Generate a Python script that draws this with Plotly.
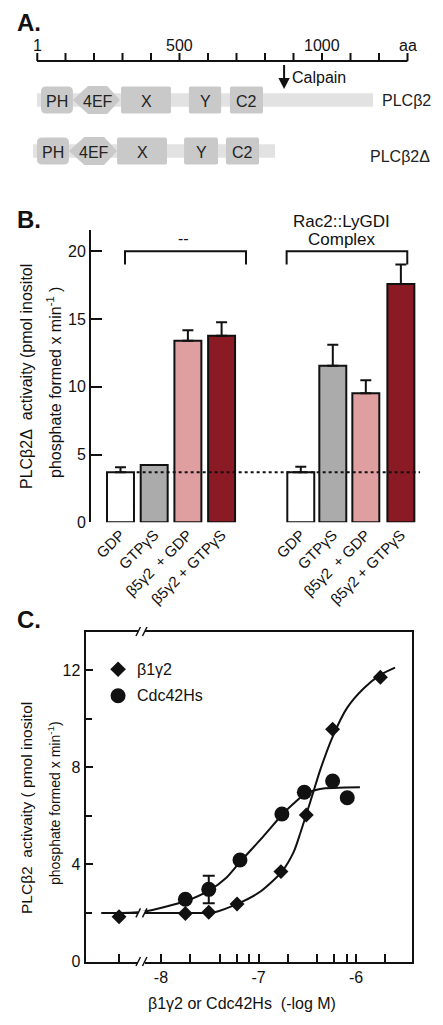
import plotly.graph_objects as go

W, H = 443, 1025
FONT = "'Liberation Sans', Arial, Helvetica, sans-serif"
INK = "#111111"

# ---------------- Panel A data (amino-acid positions) ----------------
scale_ticks = [1, 100, 200, 300, 400, 500, 600, 700, 800, 900, 1000, 1100, 1200, 1300]
scale_tick_labels = ["1", "", "", "", "", "500", "", "", "", "", "1000", "", "", "aa"]
domain_names = ["PH", "4EF", "X", "Y", "C2"]
plcb2_dom_start = [14, 126, 295, 533, 677]
plcb2_dom_end = [126, 291, 470, 646, 793]
plcb2_extent = [0, 1179]
plcb2d_dom_start = [0, 112, 281, 516, 663]
plcb2d_dom_end = [112, 281, 456, 635, 779]
plcb2d_extent = [-14, 835]
protein_names = ["PLCβ2", "PLCβ2Δ"]
calpain_site = 867

# ---------------- Panel B data ----------------
b_labels = ["GDP", "GTPγS", "β5γ2\u00a0\u00a0+ GDP", "β5γ2 + GTPγS"]
b_none_vals = [3.69, 4.23, 13.39, 13.76]
b_none_err = [0.37, 0.0, 0.77, 0.99]
b_rac_vals = [3.69, 11.55, 9.51, 17.57]
b_rac_err = [0.41, 1.55, 0.96, 1.45]
b_colors = ["#ffffff", "#ababab", "#df9ea0", "#8a1a23"]
b_group_titles = ["--", "Rac2::LyGDI", "Complex"]

# ---------------- Panel C data (log M) ----------------
c_b1g2_x = [-8.43, -7.75, -7.51, -7.22, -6.77, -6.51, -6.24, -5.75]
c_b1g2_y = [1.84, 1.98, 2.03, 2.37, 3.70, 6.03, 9.56, 11.70]
c_cdc_x = [-7.75, -7.51, -7.19, -6.76, -6.53, -6.24, -6.09]
c_cdc_y = [2.56, 2.97, 4.18, 6.07, 6.97, 7.43, 6.74]
c_cdc_err_up = [0, 0.56, 0, 0, 0, 0, 0]
c_cdc_err_down = [0, 0.57, 0, 0, 0, 0, 0]
c_b1g2_fit_x = [-8.61, -7.75, -7.46, -7.20, -6.98, -6.76, -6.64, -6.57, -6.51, -6.44, -6.37, -6.24, -6.09, -5.92, -5.75, -5.60]
c_b1g2_fit_y = [2.0, 2.0, 2.02, 2.4, 2.88, 3.7, 4.5, 5.3, 6.05, 6.95, 7.85, 9.25, 10.45, 11.25, 11.8, 12.1]
c_cdc_fit_x = [-8.61, -8.18, -7.74, -7.50, -7.33, -7.20, -6.95, -6.76, -6.64, -6.52, -6.37, -5.96]
c_cdc_fit_y = [2.0, 2.05, 2.5, 2.94, 3.45, 4.05, 5.15, 6.03, 6.5, 6.9, 7.1, 7.17]
c_xtick_vals = [-8.43, -8, -7.699, -7.398, -7.222, -7.097, -7, -6.699, -6.398, -6.222, -6.097, -6, -5.699]
c_xtick_text = ["", "-8", "", "", "", "", "-7", "", "", "", "", "-6", ""]
c_legend = ["β1γ2", "Cdc42Hs"]


def px_x(px):
    return px / W


def px_y(py):
    return 1 - py / H


fig = go.Figure()
shapes = []
annotations = []

# ================= Panel A =================
A_PX_PER_AA = 0.285
A_X0 = 37
a_range = [-A_X0 / A_PX_PER_AA, (W - A_X0) / A_PX_PER_AA]
DOM_FILL = "#c9c9c9"
BAR_FILL = "#e2e2e2"


def rounded_rect(x0, x1, y0, y1, rx, ry):
    return (f"M{x0+rx},{y0} L{x1-rx},{y0} Q{x1},{y0} {x1},{y0+ry} "
            f"L{x1},{y1-ry} Q{x1},{y1} {x1-rx},{y1} L{x0+rx},{y1} "
            f"Q{x0},{y1} {x0},{y1-ry} L{x0},{y0+ry} Q{x0},{y0} {x0+rx},{y0} Z")


def hexagon(x0, x1, y0, y1, yc):
    w = x1 - x0
    return (f"M{x0},{yc} L{x0+0.32*w},{y0} L{x1-0.27*w},{y0} L{x1},{yc} "
            f"L{x1-0.27*w},{y1} L{x0+0.32*w},{y1} Z")


# scale bar
SCALE_Y = 61
shapes.append(dict(type="line", xref="x3", yref="y3", x0=scale_ticks[0] - 1, x1=scale_ticks[-1],
                   y0=SCALE_Y, y1=SCALE_Y, line=dict(color=INK, width=2)))
for t, lab in zip(scale_ticks, scale_tick_labels):
    shapes.append(dict(type="line", xref="x3", yref="y3", x0=t, x1=t, y0=SCALE_Y, y1=SCALE_Y - 8,
                       line=dict(color=INK, width=2)))
    if lab:
        annotations.append(dict(xref="x3", yref="y3", x=t, y=45, text=lab, showarrow=False,
                                font=dict(size=16, color=INK), xanchor="center", yanchor="middle"))

rows = [
    (100, plcb2_extent, plcb2_dom_start, plcb2_dom_end),
    (151, plcb2d_extent, plcb2d_dom_start, plcb2d_dom_end),
]
for yc, ext, starts, ends in rows:
    shapes.append(dict(type="rect", xref="x3", yref="y3", x0=ext[0], x1=ext[1], y0=yc - 6.7, y1=yc + 6.7,
                       fillcolor=BAR_FILL, line=dict(width=0), layer="below"))
    for name, s, e in zip(domain_names, starts, ends):
        if name == "4EF":
            path = hexagon(s, e, yc - 14, yc + 14, yc)
        elif name == "PH":
            path = rounded_rect(s, e, yc - 13.5, yc + 13.5, 18, 5)
        else:
            path = rounded_rect(s, e, yc - 13.5, yc + 13.5, 6, 2)
        shapes.append(dict(type="path", xref="x3", yref="y3", path=path, fillcolor=DOM_FILL,
                           line=dict(width=0), layer="below"))
        annotations.append(dict(xref="x3", yref="y3", x=(s + e) / 2 + (5 if name == "4EF" else 0), y=yc + 1,
                                text=name, showarrow=False, font=dict(size=16, color="#222222"),
                                xanchor="center", yanchor="middle"))

annotations.append(dict(xref="x3", yref="y3", x=1298, y=100, text=protein_names[0], showarrow=False,
                        font=dict(size=16, color="#222222"), xanchor="center", yanchor="middle"))
annotations.append(dict(xref="x3", yref="y3", x=1274, y=156, text=protein_names[1], showarrow=False,
                        font=dict(size=16, color="#222222"), xanchor="center", yanchor="middle"))

# calpain arrow
shapes.append(dict(type="line", xref="x3", yref="y3", x0=calpain_site, x1=calpain_site, y0=65, y1=79,
                   line=dict(color=INK, width=2)))
shapes.append(dict(type="path", xref="x3", yref="y3",
                   path=f"M{calpain_site-20},78 L{calpain_site+20},78 L{calpain_site},89 Z",
                   fillcolor=INK, line=dict(width=0)))
annotations.append(dict(xref="x3", yref="y3", x=calpain_site + 20, y=77, text="Calpain", showarrow=False,
                        font=dict(size=16, color=INK), xanchor="left", yanchor="middle"))

# dummy trace to activate axes 3
fig.add_trace(go.Scatter(x=[None], y=[None], xaxis="x3", yaxis="y3", showlegend=False))

# ================= Panel B =================
b_pos_none = [0, 1, 2, 3]
b_pos_rac = [5.35, 6.3, 7.28, 8.32]
for pos, vals, err in [(b_pos_none, b_none_vals, b_none_err), (b_pos_rac, b_rac_vals, b_rac_err)]:
    fig.add_trace(go.Bar(
        x=pos, y=vals, width=0.8, xaxis="x", yaxis="y", showlegend=False, cliponaxis=False,
        marker=dict(color=b_colors, line=dict(color=INK, width=2)),
        error_y=dict(type="data", array=err, arrayminus=[0] * len(err), symmetric=False,
                     color=INK, thickness=2, width=5.5),
    ))

# dotted baseline
shapes.append(dict(type="line", xref="x", yref="y", x0=0.48, x1=8.89, y0=b_none_vals[0], y1=b_none_vals[0],
                   line=dict(color=INK, width=2, dash="dot"), layer="above"))
# brackets
shapes.append(dict(type="path", xref="x", yref="y", path="M0.134,19.02 V20 H3.724 V19.02",
                   line=dict(color=INK, width=2)))
shapes.append(dict(type="path", xref="x", yref="y", path="M4.93,19.02 V20 H8.51 V19.02",
                   line=dict(color=INK, width=2)))
annotations.append(dict(xref="x", yref="y", x=1.855, y=20.96, text=b_group_titles[0], showarrow=False,
                        font=dict(size=16, color=INK), xanchor="center", yanchor="middle"))
annotations.append(dict(xref="paper", yref="paper", x=px_x(341.5), y=px_y(221.7), text=b_group_titles[1],
                        showarrow=False, font=dict(size=17, color=INK), xanchor="center", yanchor="middle"))
annotations.append(dict(xref="paper", yref="paper", x=px_x(341.5), y=px_y(240), text=b_group_titles[2],
                        showarrow=False, font=dict(size=17, color=INK), xanchor="center", yanchor="middle"))

# ================= Panel C =================
fig.add_trace(go.Scatter(x=c_b1g2_fit_x, y=c_b1g2_fit_y, mode="lines", xaxis="x2", yaxis="y2",
                         line=dict(color=INK, width=2, shape="spline", smoothing=0.7), showlegend=False))
fig.add_trace(go.Scatter(x=c_cdc_fit_x, y=c_cdc_fit_y, mode="lines", xaxis="x2", yaxis="y2",
                         line=dict(color=INK, width=2, shape="spline", smoothing=0.7), showlegend=False))
fig.add_trace(go.Scatter(x=c_cdc_x, y=c_cdc_y, mode="markers", xaxis="x2", yaxis="y2", showlegend=False,
                         marker=dict(symbol="circle", size=15, color=INK, line=dict(width=0)),
                         error_y=dict(type="data", array=c_cdc_err_up, arrayminus=c_cdc_err_down,
                                      symmetric=False, color=INK, thickness=2, width=6)))
fig.add_trace(go.Scatter(x=c_b1g2_x, y=c_b1g2_y, mode="markers", xaxis="x2", yaxis="y2", showlegend=False,
                         marker=dict(symbol="diamond", size=11.5, color=INK, line=dict(width=0))))

# legend (drawn in plot area)
for sym, sz, yv, lab in [("diamond", 12, 12.03, c_legend[0]), ("circle", 15, 10.94, c_legend[1])]:
    fig.add_trace(go.Scatter(x=[-8.44], y=[yv], mode="markers", xaxis="x2", yaxis="y2", showlegend=False,
                             marker=dict(symbol=sym, size=sz, color=INK, line=dict(width=0))))
    annotations.append(dict(xref="x2", yref="y2", x=-8.27, y=yv, text=lab, showarrow=False,
                            font=dict(size=16, color=INK), xanchor="left", yanchor="middle"))

# axis breaks
BREAK_X = -8.2
for yref, yanc in [("paper", px_y(961.5)), ("paper", px_y(631.5)), ("y2", 2.0)]:
    shapes.append(dict(type="rect", xref="x2", xsizemode="pixel", xanchor=BREAK_X, x0=-3.5, x1=3.5,
                       yref=yref, ysizemode="pixel", yanchor=yanc, y0=-2.5, y1=2.5,
                       fillcolor="white", line=dict(width=0), layer="above"))
    for dx in (-5.5, 1.0):
        shapes.append(dict(type="line", xref="x2", xsizemode="pixel", xanchor=BREAK_X, x0=dx, x1=dx + 4.5,
                           yref=yref, ysizemode="pixel", yanchor=yanc, y0=-4.5, y1=4.5,
                           line=dict(color=INK, width=1.5), layer="above"))

# ================= Text =================
for lab, py in [("A.", 22.5), ("B.", 220), ("C.", 619.5)]:
    annotations.append(dict(xref="paper", yref="paper", x=px_x(15), y=px_y(py), text=f"<b>{lab}</b>",
                            showarrow=False, font=dict(size=24, color=INK), xanchor="left", yanchor="middle"))

ytitle = dict(xref="paper", yref="paper", textangle=-90, showarrow=False, xanchor="center", yanchor="middle")
annotations += [
    dict(ytitle, x=px_x(26), y=px_y(377), text="PLCβ2Δ\u00a0\u00a0activaity (pmol inositol",
         font=dict(size=16, color=INK)),
    dict(ytitle, x=px_x(54), y=px_y(383), text="phosphate formed x min<sup>-1</sup>\u00a0)",
         font=dict(size=16, color=INK)),
    dict(ytitle, x=px_x(26), y=px_y(808), text="PLCβ2\u00a0\u00a0activaity (\u00a0pmol inositol",
         font=dict(size=15.5, color=INK)),
    dict(ytitle, x=px_x(54), y=px_y(803), text="phosphate formed x min<sup>-1</sup>)",
         font=dict(size=14, color=INK)),
    dict(xref="paper", yref="paper", x=px_x(242), y=px_y(1003), showarrow=False, xanchor="center",
         yanchor="middle", text="β1γ2 or Cdc42Hs\u00a0\u00a0(-log M)", font=dict(size=16, color=INK)),
]

fig.update_layout(
    width=W, height=H, margin=dict(l=0, r=0, t=0, b=0),
    paper_bgcolor="white", plot_bgcolor="rgba(0,0,0,0)",
    font=dict(family=FONT, color=INK), showlegend=False,
    shapes=shapes, annotations=annotations, bargap=0,
    xaxis3=dict(domain=[0, 1], range=a_range, visible=False, anchor="y3", fixedrange=True),
    yaxis3=dict(domain=[px_y(175), 1], range=[175, 0], visible=False, anchor="x3"),
    xaxis=dict(domain=[px_x(91), px_x(422)], range=[-0.875, 8.947], anchor="y",
               tickvals=b_pos_none + b_pos_rac, ticktext=b_labels + b_labels, tickangle=-45,
               ticks="", showline=False, showgrid=False, zeroline=False,
               tickfont=dict(size=15, color=INK), automargin=False),
    yaxis=dict(domain=[px_y(522.3), px_y(230)], range=[0, 21.56], anchor="x",
               tickvals=[0, 5, 10, 15, 20], ticks="inside", ticklen=11, tickwidth=2, tickcolor=INK,
               showline=True, linewidth=2, linecolor=INK, showgrid=False, zeroline=False,
               tickfont=dict(size=16, color=INK), automargin=False),
    xaxis2=dict(domain=[px_x(85.5), px_x(411.7)], range=[-8.774, -5.429], anchor="y2",
                tickvals=c_xtick_vals, ticktext=c_xtick_text, ticks="inside", ticklen=8, tickwidth=2,
                tickcolor=INK, showline=True, mirror=True, linewidth=2, linecolor=INK,
                showgrid=False, zeroline=False, tickfont=dict(size=16, color=INK), automargin=False),
    yaxis2=dict(domain=[px_y(961.5), px_y(631.5)], range=[0, 13.585], anchor="x2",
                tickvals=[0, 4, 8, 12], ticks="inside", ticklen=7, tickwidth=2, tickcolor=INK,
                minor=dict(tickvals=[2, 6, 10], ticks="inside", ticklen=6, tickwidth=2, tickcolor=INK),
                showline=True, mirror=True, linewidth=2, linecolor=INK, showgrid=False, zeroline=False,
                tickfont=dict(size=16, color=INK), automargin=False),
)

fig.write_html("out.html", config={"displayModeBar": False, "staticPlot": True},
               post_script="document.body.style.margin='0';document.body.style.overflow='hidden';")
